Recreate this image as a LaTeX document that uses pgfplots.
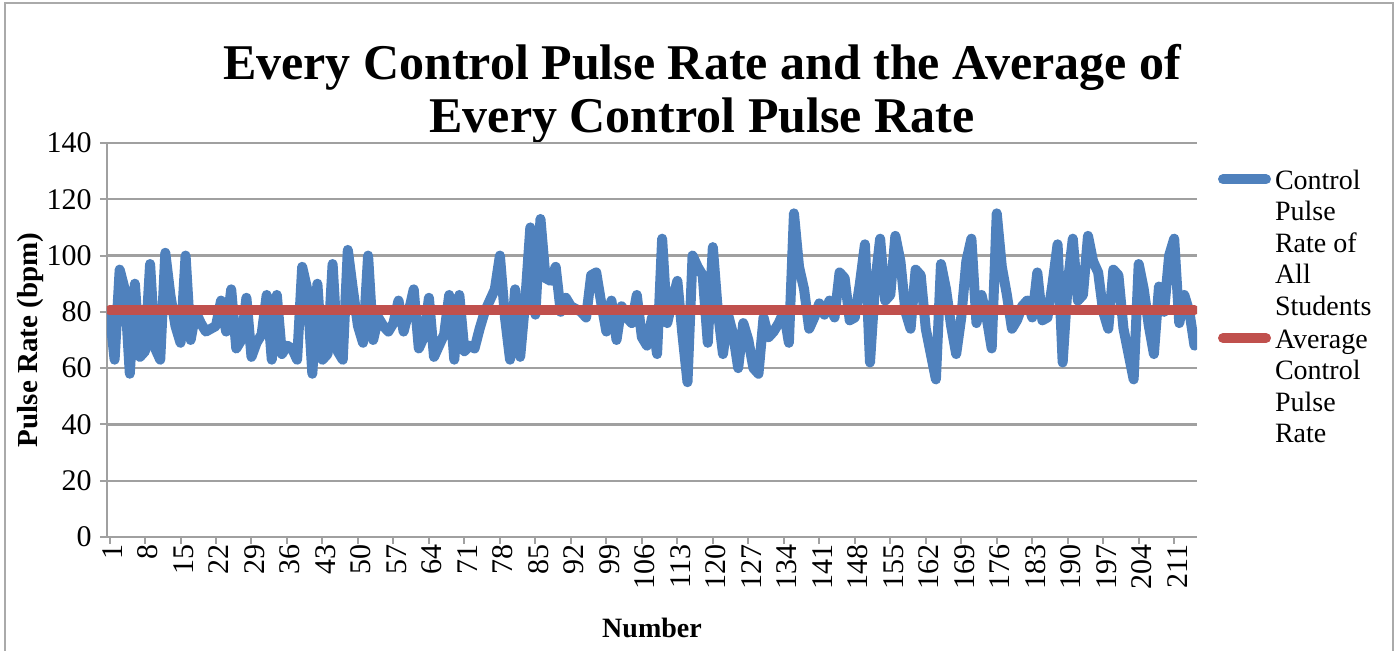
\documentclass[border=0pt]{standalone}
\usepackage{fontspec}
\setmainfont{Liberation Serif}
\usepackage{pgfplots}
\pgfplotsset{compat=1.18}
\usepackage{pgfplotstable}
\definecolor{excelblue}{RGB}{79,129,189}
\definecolor{excelred}{RGB}{192,80,77}
\definecolor{gridgray}{RGB}{160,160,160}
\definecolor{framegray}{RGB}{170,170,170}

\pgfplotstableread{
n pulse
1 80
2 63
3 95
4 88
5 58
6 90
7 64
8 66
9 97
10 67
11 63
12 101
13 86
14 75
15 69
16 100
17 70
18 80
19 76
20 73
21 74
22 75
23 84
24 73
25 88
26 67
27 70
28 85
29 64
30 69
31 72
32 86
33 63
34 86
35 65
36 68
37 67
38 63
39 96
40 88
41 58
42 90
43 63
44 65
45 97
46 66
47 63
48 102
49 88
50 75
51 69
52 100
53 70
54 78
55 75
56 73
57 76
58 84
59 73
60 80
61 88
62 67
63 71
64 85
65 64
66 68
67 72
68 86
69 63
70 86
71 66
72 68
73 67
74 74
75 80
76 84
77 88
78 100
79 78
80 63
81 88
82 64
83 84
84 110
85 79
86 113
87 92
88 91
89 96
90 80
91 85
92 82
93 81
94 80
95 78
96 93
97 94
98 83
99 73
100 84
101 70
102 82
103 78
104 76
105 86
106 71
107 68
108 78
109 65
110 106
111 76
112 84
113 91
114 72
115 55
116 100
117 96
118 93
119 69
120 103
121 80
122 65
123 79
124 72
125 60
126 76
127 70
128 60
129 58
130 78
131 71
132 73
133 76
134 80
135 69
136 115
137 96
138 88
139 74
140 78
141 83
142 79
143 84
144 78
145 94
146 92
147 77
148 78
149 90
150 104
151 62
152 90
153 106
154 84
155 86
156 107
157 98
158 80
159 74
160 95
161 93
162 74
163 65
164 56
165 97
166 88
167 75
168 65
169 78
170 98
171 106
172 76
173 86
174 78
175 67
176 115
177 96
178 86
179 74
180 77
181 82
182 84
183 78
184 94
185 77
186 78
187 90
188 104
189 62
190 90
191 106
192 84
193 86
194 107
195 98
196 94
197 80
198 74
199 95
200 93
201 74
202 65
203 56
204 97
205 88
206 75
207 65
208 89
209 80
210 100
211 106
212 76
213 86
214 80
215 68
}\pulsedata

\begin{document}
\begin{tikzpicture}
\useasboundingbox (-53.5pt,-57pt) rectangle (645pt,268.5pt);
\draw[framegray, line width=1pt] (-51pt,-70pt) -- (-51pt,267pt) -- (643pt,267pt) -- (643pt,-70pt);
\node[anchor=base, font=\fontsize{25}{30}\selectfont\bfseries, inner sep=0pt] at (297.5pt,228.5pt) {Every Control Pulse Rate and the Average of};
\node[anchor=base, font=\fontsize{25}{30}\selectfont\bfseries, inner sep=0pt] at (297.5pt,202pt) {Every Control Pulse Rate};
\begin{axis}[
  at={(0pt,0pt)}, anchor=south west,
  scale only axis, width=545pt, height=197pt,
  xmin=0.5, xmax=215.5, ymin=0, ymax=140,
  ytick={0,20,...,140},
  xtick={1,8,...,211},
  axis x line*=bottom, axis y line*=left,
  axis line style={gridgray, line width=1.2pt, -},
  ymajorgrids, grid style={gridgray, line width=1.2pt},
  tick style={gridgray, line width=1pt},
  major tick length=3.5pt, tick align=outside,
  /pgf/number format/assume math mode=true,
  ticklabel style={font=\fontsize{15}{18}\selectfont},
  yticklabel style={anchor=east, inner sep=0pt, xshift=-4pt},
  xticklabel style={rotate=90, anchor=east, inner sep=0pt, yshift=-1.5pt},
  ylabel={Pulse Rate (bpm)},
  ylabel style={at={(axis description cs:-0.0697,0.5)}, anchor=center, font=\fontsize{14.5}{17}\selectfont\bfseries, inner sep=0pt},
  xlabel={Number},
  xlabel style={at={(axis description cs:0.5,-0.231)}, anchor=center, font=\fontsize{14}{17}\selectfont\bfseries, inner sep=0pt},
  legend style={draw=none, fill=none, at={(1.0101,0.956)}, anchor=north west,
    inner sep=0pt, outer sep=0pt, row sep=0pt, column sep=1pt,
    font=\fontsize{14}{15.75}\selectfont,
    nodes={inner sep=0pt, text height=13.875pt, text depth=1.875pt}},
  legend cell align=left,
  legend image code/.code={\path (0pt,0pt); \path (27.5pt,6pt); \draw[#1, line cap=round, overlay] (5pt,-1pt) -- (26.5pt,-1pt);},
]
\addplot[excelblue, line width=5pt, line join=round, line cap=round, mark=none] table[x=n, y=pulse] {\pulsedata};
\addlegendentry{Control}
\addlegendimage{empty legend}\addlegendentry{Pulse}
\addlegendimage{empty legend}\addlegendentry{Rate of}
\addlegendimage{empty legend}\addlegendentry{All}
\addlegendimage{empty legend}\addlegendentry{Students}
\addplot[excelred, line width=5pt, line cap=round, mark=none] coordinates {(1,80.5) (215,80.5)};
\addlegendentry{Average}
\addlegendimage{empty legend}\addlegendentry{Control}
\addlegendimage{empty legend}\addlegendentry{Pulse}
\addlegendimage{empty legend}\addlegendentry{Rate}
\end{axis}
\end{tikzpicture}
\end{document}
